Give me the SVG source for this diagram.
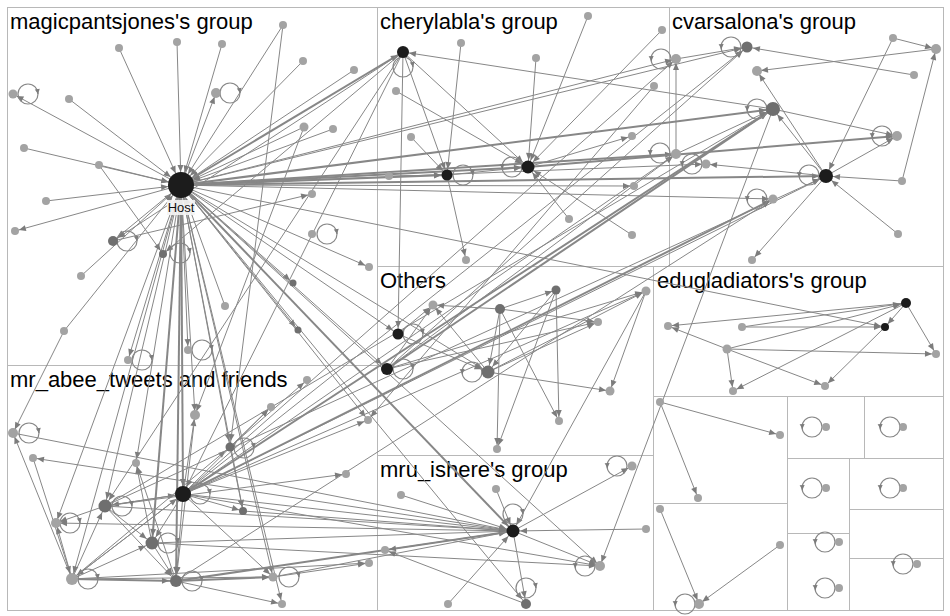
<svg xmlns="http://www.w3.org/2000/svg" width="950" height="616" viewBox="0 0 950 616">
<style>
.box{fill:none;stroke:#b8b8b8;stroke-width:1}
.e{stroke:#878787;stroke-width:1;fill:none}
.w{stroke-width:2}
.lp{fill:none;stroke:#878787;stroke-width:1.2}
.la{fill:none;stroke:#878787;stroke-width:1.2;marker-end:url(#tl)}
.l{fill:#a3a3a3}.d{fill:#6f6f6f}.k{fill:#1c1c1c}
.t4{marker-end:url(#t4)}.t6{marker-end:url(#t6)}.t7{marker-end:url(#t7)}.t8{marker-end:url(#t8)}.t13{marker-end:url(#t13)}
.g{font-family:"Liberation Sans",Arial,sans-serif;font-size:22px;fill:#000}
.hl{font-family:"Liberation Sans",Arial,sans-serif;font-size:13px;fill:#111;text-anchor:middle}
</style>
<defs>
<marker id="t4" markerUnits="userSpaceOnUse" markerWidth="8" markerHeight="6" refX="11" refY="3" orient="auto" overflow="visible"><path d="M0,0 L7,3 L0,6 z" fill="#7c7c7c"/></marker>
<marker id="t6" markerUnits="userSpaceOnUse" markerWidth="8" markerHeight="6" refX="13" refY="3" orient="auto" overflow="visible"><path d="M0,0 L7,3 L0,6 z" fill="#7c7c7c"/></marker>
<marker id="t7" markerUnits="userSpaceOnUse" markerWidth="8" markerHeight="6" refX="14" refY="3" orient="auto" overflow="visible"><path d="M0,0 L7,3 L0,6 z" fill="#7c7c7c"/></marker>
<marker id="t8" markerUnits="userSpaceOnUse" markerWidth="8" markerHeight="6" refX="15" refY="3" orient="auto" overflow="visible"><path d="M0,0 L7,3 L0,6 z" fill="#7c7c7c"/></marker>
<marker id="t13" markerUnits="userSpaceOnUse" markerWidth="8" markerHeight="6" refX="20" refY="3" orient="auto" overflow="visible"><path d="M0,0 L7,3 L0,6 z" fill="#7c7c7c"/></marker>
<marker id="tl" markerUnits="userSpaceOnUse" markerWidth="6" markerHeight="5" refX="5" refY="2.5" orient="auto" overflow="visible"><path d="M0,0 L5,2.5 L0,5 z" fill="#7c7c7c"/></marker>
</defs>
<rect width="950" height="616" fill="#fff"/>
<g id="groups">
<rect class="box" x="7.5" y="7.5" width="936" height="603"/>
<line class="box" x1="377.5" y1="7.5" x2="377.5" y2="610.5"/>
<line class="box" x1="7.5" y1="365.5" x2="377.5" y2="365.5"/>
<line class="box" x1="669.5" y1="7.5" x2="669.5" y2="266.5"/>
<line class="box" x1="377.5" y1="266.5" x2="943.5" y2="266.5"/>
<line class="box" x1="653.5" y1="266.5" x2="653.5" y2="610.5"/>
<line class="box" x1="377.5" y1="455.5" x2="653.5" y2="455.5"/>
<line class="box" x1="653.5" y1="396.5" x2="943.5" y2="396.5"/>
<line class="box" x1="787.5" y1="396.5" x2="787.5" y2="610.5"/>
<line class="box" x1="653.5" y1="503.5" x2="787.5" y2="503.5"/>
<line class="box" x1="787.5" y1="458.5" x2="943.5" y2="458.5"/>
<line class="box" x1="864.5" y1="396.5" x2="864.5" y2="458.5"/>
<line class="box" x1="849.5" y1="458.5" x2="849.5" y2="610.5"/>
<line class="box" x1="787.5" y1="533.5" x2="849.5" y2="533.5"/>
<line class="box" x1="849.5" y1="509.5" x2="943.5" y2="509.5"/>
<line class="box" x1="849.5" y1="558.5" x2="943.5" y2="558.5"/>
<text class="g" x="10" y="29">magicpantsjones's group</text>
<text class="g" x="380" y="29">cherylabla's group</text>
<text class="g" x="672" y="29">cvarsalona's group</text>
<text class="g" x="380" y="288">Others</text>
<text class="g" x="657" y="288">edugladiators's group</text>
<text class="g" x="10" y="387">mr_abee_tweets and friends</text>
<text class="g" x="380" y="477">mru_ishere's group</text>
</g>
<g id="connectors">
<!-- into Host -->
<line class="e t13" x1="283" y1="25" x2="181" y2="185"/>
<line class="e t13" x1="177" y1="42" x2="181" y2="185"/>
<line class="e t13" x1="222" y1="44" x2="181" y2="185"/>
<line class="e t13" x1="119" y1="48" x2="181" y2="185"/>
<line class="e t13" x1="303" y1="61" x2="181" y2="185"/>
<line class="e t13" x1="354" y1="70" x2="181" y2="185"/>
<line class="e t13" x1="69" y1="99" x2="181" y2="185"/>
<line class="e t13" x1="304" y1="127" x2="181" y2="185"/>
<line class="e t13" x1="333" y1="129" x2="181" y2="185"/>
<line class="e t13" x1="24" y1="148" x2="181" y2="185"/>
<line class="e t13" x1="99" y1="165" x2="181" y2="185"/>
<line class="e t13" x1="46" y1="201" x2="181" y2="185"/>
<line class="e t13" x1="81" y1="276" x2="181" y2="185"/>
<line class="e t13" x1="64" y1="331" x2="181" y2="185"/>
<line class="e t13" x1="225" y1="306" x2="181" y2="185"/>
<!-- from Host -->
<line class="e t4" x1="181" y1="185" x2="13" y2="94"/>
<line class="e t4" x1="181" y1="185" x2="216" y2="93"/>
<line class="e t4" x1="181" y1="185" x2="15" y2="231"/>
<line class="e t6" x1="181" y1="185" x2="113" y2="241"/>
<line class="e t4" x1="181" y1="185" x2="369" y2="267"/>
<line class="e t4" x1="181" y1="185" x2="293" y2="283"/>
<line class="e t4" x1="181" y1="185" x2="298" y2="330"/>
<line class="e t4" x1="181" y1="185" x2="128" y2="360"/>
<line class="e t4" x1="181" y1="185" x2="188" y2="350"/>
<line class="e w t6" x1="181" y1="185" x2="403" y2="52"/>
<line class="e w t6" x1="181" y1="185" x2="447" y2="175"/>
<line class="e w t7" x1="181" y1="185" x2="528" y2="167"/>
<line class="e t4" x1="181" y1="185" x2="634" y2="186"/>
<line class="e w t4" x1="181" y1="185" x2="676" y2="154"/>
<line class="e t4" x1="181" y1="185" x2="676" y2="59"/>
<line class="e t6" x1="181" y1="185" x2="747" y2="47"/>
<line class="e w t7" x1="181" y1="185" x2="773" y2="109"/>
<line class="e w t7" x1="181" y1="185" x2="826" y2="176"/>
<line class="e t4" x1="181" y1="185" x2="773" y2="199"/>
<line class="e t4" x1="181" y1="185" x2="706" y2="164"/>
<line class="e t4" x1="181" y1="185" x2="885" y2="327"/>
<line class="e t6" x1="181" y1="185" x2="398" y2="334"/>
<line class="e t7" x1="181" y1="185" x2="387" y2="369"/>
<line class="e t7" x1="181" y1="185" x2="488" y2="372"/>
<line class="e w t7" x1="181" y1="185" x2="513" y2="531"/>
<line class="e t6" x1="181" y1="185" x2="526" y2="604"/>
<line class="e t4" x1="181" y1="185" x2="600" y2="566"/>
<line class="e t4" x1="181" y1="185" x2="368" y2="420"/>
<line class="e t6" x1="181" y1="185" x2="72" y2="579"/>
<line class="e t7" x1="181" y1="185" x2="105" y2="506"/>
<line class="e w t7" x1="181" y1="185" x2="152" y2="543"/>
<line class="e w t7" x1="181" y1="185" x2="176" y2="581"/>
<line class="e w t8" x1="181" y1="185" x2="183" y2="494"/>
<line class="e t6" x1="181" y1="185" x2="230" y2="447"/>
<line class="e t4" x1="181" y1="185" x2="243" y2="511"/>
<line class="e t4" x1="181" y1="185" x2="273" y2="577"/>
<line class="e t4" x1="181" y1="185" x2="282" y2="604"/>
<line class="e t4" x1="181" y1="185" x2="56" y2="523"/>
<line class="e t4" x1="181" y1="185" x2="195" y2="415"/>
<line class="e t4" x1="181" y1="185" x2="136" y2="463"/>
<!-- magicpants misc -->
<line class="e t4" x1="99" y1="165" x2="163" y2="254"/>
<line class="e t4" x1="113" y1="241" x2="312" y2="194"/>
<line class="e t6" x1="283" y1="25" x2="230" y2="447"/>
<line class="e t4" x1="304" y1="127" x2="195" y2="415"/>
<line class="e t4" x1="64" y1="331" x2="13" y2="433"/>
<!-- mr_abee internal -->
<line class="e t4" x1="72" y1="579" x2="56" y2="523"/>
<line class="e t7" x1="72" y1="579" x2="105" y2="506"/>
<line class="e t8" x1="72" y1="579" x2="183" y2="494"/>
<line class="e t7" x1="72" y1="579" x2="152" y2="543"/>
<line class="e w t7" x1="72" y1="579" x2="176" y2="581"/>
<line class="e t4" x1="72" y1="579" x2="273" y2="577"/>
<line class="e t4" x1="72" y1="579" x2="369" y2="563"/>
<line class="e t4" x1="72" y1="579" x2="13" y2="433"/>
<line class="e t6" x1="72" y1="579" x2="230" y2="447"/>
<line class="e t8" x1="105" y1="506" x2="183" y2="494"/>
<line class="e t7" x1="183" y1="494" x2="105" y2="506"/>
<line class="e t7" x1="105" y1="506" x2="152" y2="543"/>
<line class="e t7" x1="105" y1="506" x2="176" y2="581"/>
<line class="e t4" x1="105" y1="506" x2="346" y2="474"/>
<line class="e t4" x1="105" y1="506" x2="56" y2="523"/>
<line class="e t7" x1="183" y1="494" x2="152" y2="543"/>
<line class="e t7" x1="183" y1="494" x2="176" y2="581"/>
<line class="e t6" x1="183" y1="494" x2="72" y2="579"/>
<line class="e t4" x1="183" y1="494" x2="273" y2="577"/>
<line class="e t4" x1="183" y1="494" x2="243" y2="511"/>
<line class="e t4" x1="183" y1="494" x2="368" y2="420"/>
<line class="e t4" x1="183" y1="494" x2="271" y2="407"/>
<line class="e t4" x1="183" y1="494" x2="195" y2="415"/>
<line class="e t7" x1="152" y1="543" x2="176" y2="581"/>
<line class="e t4" x1="152" y1="543" x2="136" y2="463"/>
<line class="e t4" x1="176" y1="581" x2="136" y2="463"/>
<line class="e w t4" x1="176" y1="581" x2="273" y2="577"/>
<line class="e t4" x1="176" y1="581" x2="282" y2="604"/>
<line class="e t7" x1="195" y1="415" x2="176" y2="581"/>
<line class="e t4" x1="273" y1="577" x2="369" y2="563"/>
<line class="e t4" x1="230" y1="447" x2="307" y2="380"/>
<line class="e t4" x1="230" y1="447" x2="271" y2="407"/>
<line class="e t4" x1="230" y1="447" x2="243" y2="511"/>
<line class="e t4" x1="513" y1="531" x2="33" y2="458"/>
<line class="e t6" x1="33" y1="458" x2="72" y2="579"/>
<line class="e t7" x1="13" y1="433" x2="513" y2="531"/>
<line class="e t4" x1="513" y1="531" x2="56" y2="523"/>
<!-- mr_abee to right -->
<line class="e w t7" x1="183" y1="494" x2="773" y2="109"/>
<line class="e t6" x1="183" y1="494" x2="747" y2="47"/>
<line class="e t4" x1="183" y1="494" x2="676" y2="154"/>
<line class="e t7" x1="183" y1="494" x2="826" y2="176"/>
<line class="e w t4" x1="183" y1="494" x2="773" y2="199"/>
<line class="e t4" x1="183" y1="494" x2="676" y2="59"/>
<line class="e t4" x1="183" y1="494" x2="646" y2="291"/>
<line class="e t7" x1="183" y1="494" x2="513" y2="531"/>
<line class="e t4" x1="183" y1="494" x2="600" y2="566"/>
<line class="e t7" x1="105" y1="506" x2="773" y2="109"/>
<line class="e t7" x1="105" y1="506" x2="826" y2="176"/>
<line class="e t7" x1="105" y1="506" x2="513" y2="531"/>
<line class="e t7" x1="152" y1="543" x2="513" y2="531"/>
<line class="e t4" x1="152" y1="543" x2="600" y2="566"/>
<line class="e w t7" x1="176" y1="581" x2="513" y2="531"/>
<line class="e t4" x1="176" y1="581" x2="773" y2="199"/>
<line class="e t7" x1="243" y1="511" x2="513" y2="531"/>
<line class="e t7" x1="273" y1="577" x2="513" y2="531"/>
<!-- cherylabla -->
<line class="e t6" x1="403" y1="52" x2="398" y2="334"/>
<line class="e t7" x1="403" y1="52" x2="528" y2="167"/>
<line class="e t4" x1="447" y1="175" x2="466" y2="260"/>
<line class="e t6" x1="461" y1="43" x2="447" y2="175"/>
<line class="e t7" x1="588" y1="16" x2="528" y2="167"/>
<line class="e t7" x1="536" y1="58" x2="528" y2="167"/>
<line class="e t7" x1="662" y1="30" x2="528" y2="167"/>
<line class="e t7" x1="396" y1="91" x2="528" y2="167"/>
<line class="e t6" x1="411" y1="137" x2="447" y2="175"/>
<line class="e t4" x1="528" y1="167" x2="632" y2="136"/>
<line class="e t7" x1="569" y1="219" x2="528" y2="167"/>
<line class="e t7" x1="632" y1="235" x2="528" y2="167"/>
<line class="e t6" x1="389" y1="176" x2="447" y2="175"/>
<line class="e t7" x1="447" y1="175" x2="528" y2="167"/>
<line class="e t6" x1="773" y1="109" x2="403" y2="52"/>
<line class="e t8" x1="403" y1="52" x2="183" y2="494"/>
<line class="e t7" x1="403" y1="52" x2="105" y2="506"/>
<line class="e t4" x1="654" y1="86" x2="368" y2="420"/>
<line class="e t6" x1="403" y1="52" x2="447" y2="175"/>
<line class="e t6" x1="403" y1="52" x2="113" y2="241"/>
<line class="e t4" x1="403" y1="52" x2="163" y2="254"/>
<!-- cvarsalona -->
<line class="e t4" x1="893" y1="38" x2="936" y2="49"/>
<line class="e t4" x1="936" y1="49" x2="757" y2="71"/>
<line class="e t6" x1="914" y1="75" x2="747" y2="47"/>
<line class="e t7" x1="893" y1="38" x2="826" y2="176"/>
<line class="e t4" x1="902" y1="181" x2="936" y2="49"/>
<line class="e t4" x1="826" y1="176" x2="757" y2="71"/>
<line class="e t7" x1="826" y1="176" x2="773" y2="109"/>
<line class="e t4" x1="826" y1="176" x2="897" y2="136"/>
<line class="e w t4" x1="528" y1="167" x2="897" y2="136"/>
<line class="e t7" x1="902" y1="181" x2="826" y2="176"/>
<line class="e t7" x1="898" y1="234" x2="826" y2="176"/>
<line class="e t4" x1="826" y1="176" x2="752" y2="260"/>
<line class="e t4" x1="773" y1="109" x2="897" y2="136"/>
<line class="e t6" x1="676" y1="59" x2="747" y2="47"/>
<line class="e t4" x1="676" y1="154" x2="676" y2="59"/>
<line class="e t7" x1="676" y1="154" x2="773" y2="109"/>
<line class="e t4" x1="826" y1="176" x2="706" y2="164"/>
<line class="e t4" x1="773" y1="109" x2="600" y2="566"/>
<!-- others -->
<line class="e t4" x1="500" y1="309" x2="433" y2="305"/>
<line class="e t4" x1="500" y1="309" x2="556" y2="290"/>
<line class="e t4" x1="500" y1="309" x2="598" y2="322"/>
<line class="e t7" x1="500" y1="309" x2="488" y2="372"/>
<line class="e t4" x1="500" y1="309" x2="497" y2="449"/>
<line class="e t4" x1="500" y1="309" x2="559" y2="421"/>
<line class="e t7" x1="556" y1="290" x2="488" y2="372"/>
<line class="e t4" x1="556" y1="290" x2="497" y2="449"/>
<line class="e t4" x1="556" y1="290" x2="559" y2="421"/>
<line class="e t4" x1="646" y1="291" x2="610" y2="391"/>
<line class="e t4" x1="488" y1="372" x2="646" y2="291"/>
<line class="e t4" x1="488" y1="372" x2="610" y2="391"/>
<line class="e t4" x1="488" y1="372" x2="598" y2="322"/>
<line class="e t4" x1="398" y1="334" x2="433" y2="305"/>
<line class="e t4" x1="488" y1="372" x2="433" y2="305"/>
<line class="e t7" x1="398" y1="334" x2="488" y2="372"/>
<line class="e t4" x1="387" y1="369" x2="598" y2="322"/>
<line class="e t4" x1="387" y1="369" x2="433" y2="305"/>
<line class="e t4" x1="387" y1="369" x2="646" y2="291"/>
<line class="e w t7" x1="387" y1="369" x2="773" y2="109"/>
<line class="e t6" x1="387" y1="369" x2="747" y2="47"/>
<line class="e t4" x1="387" y1="369" x2="676" y2="154"/>
<!-- edugladiators -->
<line class="e t4" x1="906" y1="303" x2="668" y2="326"/>
<line class="e t4" x1="906" y1="303" x2="885" y2="327"/>
<line class="e t4" x1="906" y1="303" x2="936" y2="354"/>
<line class="e t4" x1="906" y1="303" x2="733" y2="391"/>
<line class="e t6" x1="742" y1="327" x2="906" y2="303"/>
<line class="e t4" x1="742" y1="327" x2="885" y2="327"/>
<line class="e t4" x1="727" y1="349" x2="668" y2="326"/>
<line class="e t4" x1="727" y1="349" x2="733" y2="391"/>
<line class="e t4" x1="727" y1="349" x2="825" y2="386"/>
<line class="e t4" x1="727" y1="349" x2="936" y2="354"/>
<line class="e t6" x1="727" y1="349" x2="906" y2="303"/>
<line class="e t4" x1="885" y1="327" x2="825" y2="386"/>
<!-- mru -->
<line class="e t7" x1="401" y1="495" x2="513" y2="531"/>
<line class="e t7" x1="496" y1="489" x2="513" y2="531"/>
<line class="e t4" x1="513" y1="531" x2="632" y2="466"/>
<line class="e t7" x1="646" y1="529" x2="513" y2="531"/>
<line class="e t4" x1="513" y1="531" x2="385" y2="550"/>
<line class="e t4" x1="526" y1="604" x2="385" y2="550"/>
<line class="e t6" x1="513" y1="531" x2="526" y2="604"/>
<line class="e t7" x1="448" y1="604" x2="513" y2="531"/>
<line class="e t4" x1="513" y1="531" x2="600" y2="566"/>
<line class="e t7" x1="646" y1="291" x2="513" y2="531"/>
<!-- small groups -->
<line class="e t4" x1="660" y1="402" x2="780" y2="435"/>
<line class="e t4" x1="660" y1="402" x2="698" y2="498"/>
<line class="e t4" x1="660" y1="509" x2="699" y2="604"/>
<line class="e t4" x1="780" y1="545" x2="699" y2="604"/>
<!-- self loops (right side) -->
<circle class="lp" cx="28" cy="94" r="10"/><path class="la" d="M37.5,90.5 L38,94"/>
<circle class="lp" cx="230" cy="93" r="10"/><path class="la" d="M239.5,89.5 L240,93"/>
<circle class="lp" cx="327" cy="234" r="10"/><path class="la" d="M336.5,230.5 L337,234"/>
<circle class="lp" cx="127" cy="241" r="10"/><path class="la" d="M136.5,237.5 L137,241"/>
<circle class="lp" cx="180" cy="253" r="10"/><path class="la" d="M189.5,249.5 L190,253"/>
<circle class="lp" cx="142" cy="360" r="10"/><path class="la" d="M151.5,356.5 L152,360"/>
<circle class="lp" cx="202" cy="350" r="10"/><path class="la" d="M211.5,346.5 L212,350"/>
<circle class="lp" cx="29" cy="433" r="10"/><path class="la" d="M38.5,429.5 L39,433"/>
<circle class="lp" cx="244" cy="448" r="10"/><path class="la" d="M253.5,444.5 L254,448"/>
<circle class="lp" cx="122" cy="506" r="10"/><path class="la" d="M131.5,502.5 L132,506"/>
<circle class="lp" cx="70" cy="523" r="10"/><path class="la" d="M79.5,519.5 L80,523"/>
<circle class="lp" cx="168" cy="543" r="10"/><path class="la" d="M177.5,539.5 L178,543"/>
<circle class="lp" cx="88" cy="579" r="10"/><path class="la" d="M97.5,575.5 L98,579"/>
<circle class="lp" cx="192" cy="581" r="10"/><path class="la" d="M201.5,577.5 L202,581"/>
<circle class="lp" cx="289" cy="577" r="10"/><path class="la" d="M298.5,573.5 L299,577"/>
<circle class="lp" cx="200" cy="494" r="10"/><path class="la" d="M209.5,490.5 L210,494"/>
<circle class="lp" cx="463" cy="175" r="10"/><path class="la" d="M472.5,171.5 L473,175"/>
<circle class="lp" cx="413" cy="334" r="10"/><path class="la" d="M422.5,330.5 L423,334"/>
<circle class="lp" cx="403" cy="369" r="10"/><path class="la" d="M412.5,365.5 L413,369"/>
<circle class="lp" cx="403" cy="67" r="10"/><path class="la" d="M412.5,63.5 L413,67"/>
<circle class="lp" cx="513" cy="514" r="10"/><path class="la" d="M522.5,510.5 L523,514"/>
<circle class="lp" cx="526" cy="588" r="10"/><path class="la" d="M535.5,584.5 L536,588"/>
<!-- self loops (left side) -->
<circle class="lp" cx="512" cy="167" r="10"/><path class="la" d="M502.2,165 L502.4,169"/>
<circle class="lp" cx="661" cy="59" r="10"/><path class="la" d="M651.2,57 L651.4,61"/>
<circle class="lp" cx="660" cy="153" r="10"/><path class="la" d="M650.2,151 L650.4,155"/>
<circle class="lp" cx="731" cy="47" r="10"/><path class="la" d="M721.2,45 L721.4,49"/>
<circle class="lp" cx="757" cy="109" r="10"/><path class="la" d="M747.2,107 L747.4,111"/>
<circle class="lp" cx="882" cy="136" r="10"/><path class="la" d="M872.2,134 L872.4,138"/>
<circle class="lp" cx="692" cy="164" r="10"/><path class="la" d="M682.2,162 L682.4,166"/>
<circle class="lp" cx="809" cy="175" r="10"/><path class="la" d="M799.2,173 L799.4,177"/>
<circle class="lp" cx="757" cy="199" r="10"/><path class="la" d="M747.2,197 L747.4,201"/>
<circle class="lp" cx="472" cy="372" r="10"/><path class="la" d="M462.2,370 L462.4,374"/>
<circle class="lp" cx="617" cy="466" r="10"/><path class="la" d="M607.2,464 L607.4,468"/>
<circle class="lp" cx="585" cy="566" r="10"/><path class="la" d="M575.2,564 L575.4,568"/>
<circle class="lp" cx="685" cy="604" r="10"/><path class="la" d="M675.2,602 L675.4,606"/>
<circle class="lp" cx="812" cy="427" r="10"/><path class="la" d="M802.2,425 L802.4,429"/>
<circle class="lp" cx="890" cy="427" r="10"/><path class="la" d="M880.2,425 L880.4,429"/>
<circle class="lp" cx="812" cy="488" r="10"/><path class="la" d="M802.2,486 L802.4,490"/>
<circle class="lp" cx="890" cy="488" r="10"/><path class="la" d="M880.2,486 L880.4,490"/>
<circle class="lp" cx="825" cy="542" r="10"/><path class="la" d="M815.2,540 L815.4,544"/>
<circle class="lp" cx="903" cy="564" r="10"/><path class="la" d="M893.2,562 L893.4,566"/>
<circle class="lp" cx="825" cy="588" r="10"/><path class="la" d="M815.2,586 L815.4,590"/>
</g>
<g id="nodes">
<g id="n-host"><circle class="k" cx="181" cy="185" r="13"/><rect x="167" y="200" width="28" height="15" fill="#f4f4f4" opacity="0.9"/><text class="hl" x="181" y="212">Host</text></g>
<g id="n-a1"><circle class="l" cx="283" cy="25" r="4"/></g>
<g id="n-a2"><circle class="l" cx="177" cy="42" r="4"/></g>
<g id="n-a3"><circle class="l" cx="222" cy="44" r="4"/></g>
<g id="n-a4"><circle class="l" cx="119" cy="48" r="4"/></g>
<g id="n-a5"><circle class="l" cx="303" cy="61" r="4"/></g>
<g id="n-a6"><circle class="l" cx="354" cy="70" r="4"/></g>
<g id="n-a7"><circle class="l" cx="13" cy="94" r="4.5"/></g>
<g id="n-a8"><circle class="l" cx="69" cy="99" r="4"/></g>
<g id="n-a9"><circle class="l" cx="216" cy="93" r="5"/></g>
<g id="n-a10"><circle class="l" cx="304" cy="127" r="4.5"/></g>
<g id="n-a11"><circle class="l" cx="333" cy="129" r="4"/></g>
<g id="n-a12"><circle class="l" cx="24" cy="148" r="4"/></g>
<g id="n-a13"><circle class="l" cx="99" cy="165" r="4"/></g>
<g id="n-a14"><circle class="l" cx="46" cy="201" r="4"/></g>
<g id="n-a15"><circle class="l" cx="15" cy="231" r="4"/></g>
<g id="n-a16"><circle class="l" cx="312" cy="194" r="4"/></g>
<g id="n-a17"><circle class="l" cx="312" cy="234" r="4"/></g>
<g id="n-a18"><circle class="d" cx="113" cy="241" r="5"/></g>
<g id="n-a19"><circle class="d" cx="163" cy="254" r="4"/></g>
<g id="n-a20"><circle class="l" cx="369" cy="267" r="4"/></g>
<g id="n-a21"><circle class="l" cx="81" cy="276" r="4"/></g>
<g id="n-a22"><circle class="l" cx="64" cy="331" r="4"/></g>
<g id="n-a23"><circle class="l" cx="225" cy="306" r="4"/></g>
<g id="n-a24"><circle class="d" cx="293" cy="283" r="3.5"/></g>
<g id="n-a25"><circle class="d" cx="298" cy="330" r="3.5"/></g>
<g id="n-a26"><circle class="l" cx="128" cy="360" r="4"/></g>
<g id="n-a27"><circle class="l" cx="188" cy="350" r="4"/></g>
<g id="n-b1"><circle class="l" cx="307" cy="380" r="4"/></g>
<g id="n-b2"><circle class="l" cx="271" cy="407" r="4"/></g>
<g id="n-b3"><circle class="l" cx="195" cy="415" r="5"/></g>
<g id="n-b4"><circle class="l" cx="13" cy="433" r="5"/></g>
<g id="n-b5"><circle class="l" cx="368" cy="420" r="4"/></g>
<g id="n-b6"><circle class="d" cx="230" cy="447" r="4.5"/></g>
<g id="n-b7"><circle class="l" cx="33" cy="458" r="4"/></g>
<g id="n-b8"><circle class="l" cx="136" cy="463" r="4"/></g>
<g id="n-B"><circle class="k" cx="183" cy="494" r="8"/></g>
<g id="n-b9"><circle class="d" cx="105" cy="506" r="6.5"/></g>
<g id="n-b10"><circle class="l" cx="56" cy="523" r="5"/></g>
<g id="n-b11"><circle class="d" cx="243" cy="511" r="4"/></g>
<g id="n-b12"><circle class="l" cx="346" cy="474" r="4"/></g>
<g id="n-b13"><circle class="d" cx="152" cy="543" r="6.5"/></g>
<g id="n-b14"><circle class="l" cx="72" cy="579" r="6"/></g>
<g id="n-b15"><circle class="d" cx="176" cy="581" r="6"/></g>
<g id="n-b16"><circle class="l" cx="273" cy="577" r="4.5"/></g>
<g id="n-b17"><circle class="l" cx="369" cy="563" r="4"/></g>
<g id="n-b18"><circle class="l" cx="282" cy="604" r="4"/></g>
<g id="n-c1"><circle class="k" cx="403" cy="52" r="6"/></g>
<g id="n-c2"><circle class="l" cx="461" cy="43" r="4"/></g>
<g id="n-c3"><circle class="l" cx="588" cy="16" r="4"/></g>
<g id="n-c4"><circle class="l" cx="662" cy="30" r="4"/></g>
<g id="n-c5"><circle class="l" cx="536" cy="58" r="4"/></g>
<g id="n-c6"><circle class="l" cx="396" cy="91" r="4"/></g>
<g id="n-c7"><circle class="l" cx="654" cy="86" r="4"/></g>
<g id="n-c8"><circle class="l" cx="411" cy="137" r="4"/></g>
<g id="n-c9"><circle class="l" cx="632" cy="136" r="4"/></g>
<g id="n-c10"><circle class="k" cx="447" cy="175" r="5.5"/></g>
<g id="n-c11"><circle class="l" cx="389" cy="176" r="4"/></g>
<g id="n-c12"><circle class="k" cx="528" cy="167" r="6.5"/></g>
<g id="n-c13"><circle class="l" cx="634" cy="186" r="4"/></g>
<g id="n-c14"><circle class="l" cx="569" cy="219" r="4"/></g>
<g id="n-c15"><circle class="l" cx="632" cy="235" r="4"/></g>
<g id="n-c16"><circle class="l" cx="466" cy="260" r="4"/></g>
<g id="n-c17"><circle class="l" cx="676" cy="59" r="5"/></g>
<g id="n-c18"><circle class="l" cx="676" cy="154" r="5"/></g>
<g id="n-d1"><circle class="d" cx="747" cy="47" r="5.5"/></g>
<g id="n-d2"><circle class="l" cx="893" cy="38" r="4"/></g>
<g id="n-d3"><circle class="l" cx="936" cy="49" r="5"/></g>
<g id="n-d4"><circle class="l" cx="757" cy="71" r="5"/></g>
<g id="n-d5"><circle class="l" cx="914" cy="75" r="4"/></g>
<g id="n-d6"><circle class="d" cx="773" cy="109" r="7"/></g>
<g id="n-d7"><circle class="l" cx="897" cy="136" r="5"/></g>
<g id="n-d8"><circle class="l" cx="706" cy="164" r="4.5"/></g>
<g id="n-D"><circle class="k" cx="826" cy="176" r="7"/></g>
<g id="n-d9"><circle class="l" cx="902" cy="181" r="4"/></g>
<g id="n-d10"><circle class="l" cx="773" cy="199" r="4.5"/></g>
<g id="n-d11"><circle class="l" cx="898" cy="234" r="4"/></g>
<g id="n-d12"><circle class="l" cx="752" cy="260" r="4"/></g>
<g id="n-e1"><circle class="l" cx="433" cy="305" r="4.5"/></g>
<g id="n-e2"><circle class="d" cx="500" cy="309" r="5"/></g>
<g id="n-e3"><circle class="d" cx="556" cy="290" r="4.5"/></g>
<g id="n-e4"><circle class="l" cx="598" cy="322" r="4"/></g>
<g id="n-e5"><circle class="l" cx="646" cy="291" r="4.5"/></g>
<g id="n-E1"><circle class="k" cx="398" cy="334" r="5.5"/></g>
<g id="n-E2"><circle class="k" cx="387" cy="369" r="6"/></g>
<g id="n-E3"><circle class="d" cx="488" cy="372" r="6.5"/></g>
<g id="n-e6"><circle class="l" cx="610" cy="391" r="4.5"/></g>
<g id="n-e7"><circle class="l" cx="559" cy="421" r="4"/></g>
<g id="n-e8"><circle class="l" cx="497" cy="449" r="4"/></g>
<g id="n-f1"><circle class="k" cx="906" cy="303" r="5"/></g>
<g id="n-f2"><circle class="k" cx="885" cy="327" r="4"/></g>
<g id="n-f3"><circle class="l" cx="668" cy="326" r="4"/></g>
<g id="n-f4"><circle class="l" cx="742" cy="327" r="4"/></g>
<g id="n-f5"><circle class="l" cx="727" cy="349" r="4.5"/></g>
<g id="n-f6"><circle class="l" cx="936" cy="354" r="4"/></g>
<g id="n-f7"><circle class="l" cx="733" cy="391" r="4"/></g>
<g id="n-f8"><circle class="l" cx="825" cy="386" r="4"/></g>
<g id="n-M"><circle class="k" cx="513" cy="531" r="6.5"/></g>
<g id="n-m1"><circle class="l" cx="401" cy="495" r="4"/></g>
<g id="n-m2"><circle class="l" cx="496" cy="489" r="4"/></g>
<g id="n-m3"><circle class="l" cx="632" cy="466" r="4.5"/></g>
<g id="n-m4"><circle class="l" cx="646" cy="529" r="4"/></g>
<g id="n-m5"><circle class="l" cx="385" cy="550" r="4"/></g>
<g id="n-m6"><circle class="l" cx="600" cy="566" r="5"/></g>
<g id="n-m7"><circle class="d" cx="526" cy="604" r="5"/></g>
<g id="n-m8"><circle class="l" cx="448" cy="604" r="4"/></g>
<g id="n-s1"><circle class="l" cx="660" cy="402" r="4"/></g>
<g id="n-s2"><circle class="l" cx="780" cy="435" r="4"/></g>
<g id="n-s3"><circle class="l" cx="698" cy="498" r="4"/></g>
<g id="n-s4"><circle class="l" cx="660" cy="509" r="4"/></g>
<g id="n-s5"><circle class="l" cx="780" cy="545" r="4"/></g>
<g id="n-s6"><circle class="l" cx="699" cy="604" r="5"/></g>
<g id="n-s7"><circle class="l" cx="826" cy="427" r="4"/></g>
<g id="n-s8"><circle class="l" cx="903" cy="427" r="4"/></g>
<g id="n-s9"><circle class="l" cx="826" cy="488" r="4"/></g>
<g id="n-s10"><circle class="l" cx="903" cy="488" r="4"/></g>
<g id="n-s11"><circle class="l" cx="839" cy="542" r="4"/></g>
<g id="n-s12"><circle class="l" cx="917" cy="564" r="4"/></g>
<g id="n-s13"><circle class="l" cx="839" cy="588" r="4"/></g>
</g>
</svg>
